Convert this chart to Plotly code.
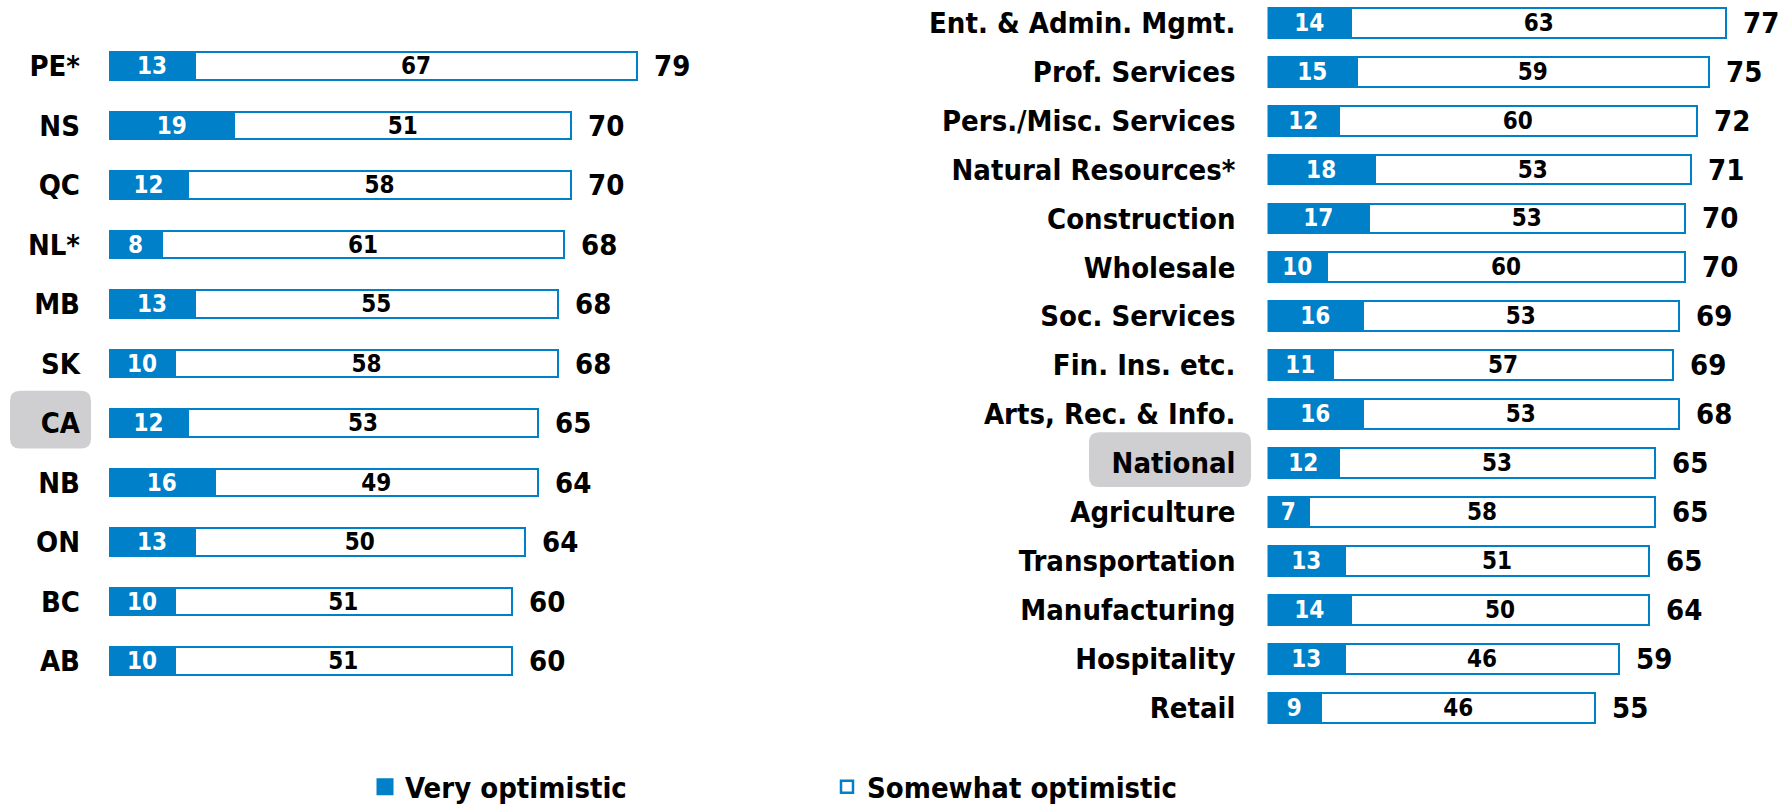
import plotly.graph_objects as go

# ---------------- data ----------------
prov_labels = ["PE*", "NS", "QC", "NL*", "MB", "SK", "CA", "NB", "ON", "BC", "AB"]
prov_very = [13, 19, 12, 8, 13, 10, 12, 16, 13, 10, 10]
prov_some = [67, 51, 58, 61, 55, 58, 53, 49, 50, 51, 51]
prov_total = [79, 70, 70, 68, 68, 68, 65, 64, 64, 60, 60]

sect_labels = ["Ent. & Admin. Mgmt.", "Prof. Services", "Pers./Misc. Services",
               "Natural Resources*", "Construction", "Wholesale", "Soc. Services",
               "Fin. Ins. etc.", "Arts, Rec. & Info.", "National", "Agriculture",
               "Transportation", "Manufacturing", "Hospitality", "Retail"]
sect_very = [14, 15, 12, 18, 17, 10, 16, 11, 16, 12, 7, 13, 14, 13, 9]
sect_some = [63, 59, 60, 53, 53, 60, 53, 57, 53, 53, 58, 51, 50, 46, 46]
sect_total = [77, 75, 72, 71, 70, 70, 69, 69, 68, 65, 65, 65, 64, 59, 55]

series_names = ["Very optimistic", "Somewhat optimistic"]
highlight_prov = "CA"
highlight_sect = "National"

# ---------------- style ----------------
W, H = 1784, 806
BLUE = "#0080C8"
GRAY = "#CFCFD1"
FONT = "DejaVu Sans Condensed"
VAL_SIZE = 24
LAB_SIZE = 29

fig = go.Figure()

def add_panel(labels, very, some, total, xa, ya, width):
    fig.add_trace(go.Bar(
        y=labels, x=very, orientation="h", name=series_names[0],
        marker=dict(color=BLUE, line=dict(color=BLUE, width=2)),
        width=width, text=very, textposition="inside", insidetextanchor="middle",
        constraintext="none", textangle=0,
        textfont=dict(family=FONT, size=VAL_SIZE, color="white", weight="bold"),
        xaxis=xa, yaxis=ya, showlegend=False, hoverinfo="skip"))
    fig.add_trace(go.Bar(
        y=labels, x=some, orientation="h", name=series_names[1],
        marker=dict(color="white", line=dict(color=BLUE, width=2)),
        width=width, text=some, textposition="inside", insidetextanchor="middle",
        constraintext="none", textangle=0,
        textfont=dict(family=FONT, size=VAL_SIZE, color="black", weight="bold"),
        xaxis=xa, yaxis=ya, showlegend=False, hoverinfo="skip"))
    for lab, v, s, t in zip(labels, very, some, total):
        fig.add_annotation(x=v + s, y=lab, text=str(t), showarrow=False,
                           xanchor="left", xshift=15, xref=xa, yref=ya,
                           font=dict(family=FONT, size=LAB_SIZE, color="black",
                                     weight="bold"))

add_panel(prov_labels, prov_very, prov_some, prov_total, "x", "y", 0.47)
add_panel(sect_labels, sect_very, sect_some, sect_total, "x2", "y2", 0.61)

# legend entries (larger key squares)
fig.add_trace(go.Bar(y=[None], x=[None], orientation="h", name=series_names[0],
                     marker=dict(color=BLUE, line=dict(color=BLUE, width=5)),
                     xaxis="x", yaxis="y", hoverinfo="skip"))
fig.add_trace(go.Bar(y=[None], x=[None], orientation="h", name=series_names[1],
                     marker=dict(color="white", line=dict(color=BLUE, width=2.5)),
                     xaxis="x", yaxis="y", hoverinfo="skip"))

def rounded_box(x0, x1, y0, y1, yunit, r=10):
    rx = r / W
    ry = r / yunit
    return (f"M{x0+rx},{y0} L{x1-rx},{y0} Q{x1},{y0} {x1},{y0+ry} "
            f"L{x1},{y1-ry} Q{x1},{y1} {x1-rx},{y1} L{x0+rx},{y1} "
            f"Q{x0},{y1} {x0},{y1-ry} L{x0},{y0+ry} Q{x0},{y0} {x0+rx},{y0} Z")

ip = prov_labels.index(highlight_prov)
fig.add_shape(type="path", xref="paper", yref="y", layer="below",
              path=rounded_box(10 / W, 91 / W, ip - 0.54, ip + 0.43, 59.5),
              fillcolor=GRAY, line=dict(width=0))
isx = sect_labels.index(highlight_sect)
fig.add_shape(type="path", xref="paper", yref="y2", layer="below",
              path=rounded_box(1089 / W, 1251 / W, isx - 0.63, isx + 0.49, 48.9),
              fillcolor=GRAY, line=dict(width=0))

label_font = dict(family=FONT, size=LAB_SIZE, color="black", weight="bold")

fig.update_layout(
    width=W, height=H, margin=dict(l=0, r=0, t=0, b=0, autoexpand=False),
    paper_bgcolor="white", plot_bgcolor="rgba(0,0,0,0)",
    barmode="stack",
    uniformtext=dict(minsize=VAL_SIZE, mode="show"),
    xaxis=dict(domain=[109 / W, (109 + 90 * 6.6) / W], range=[0, 90],
               visible=False, fixedrange=True),
    yaxis=dict(domain=[115.25 / H, 769.75 / H], range=[10.5, -0.5],
               type="category", categoryorder="array", categoryarray=prov_labels,
               showgrid=False, zeroline=False, showline=False, ticks="",
               ticklabelstandoff=28, tickfont=label_font, fixedrange=True),
    xaxis2=dict(domain=[1267.5 / W, (1267.5 + 86 * 5.96) / W], range=[0, 86],
                visible=False, fixedrange=True, anchor="y2"),
    yaxis2=dict(domain=[(H - 732.1) / H, 1.0], range=[14.5, -0.466],
                anchor="x2", type="category", categoryorder="array",
                categoryarray=sect_labels,
                showgrid=False, zeroline=False, showline=False, ticks="",
                ticklabelstandoff=31, tickfont=label_font, fixedrange=True),
    legend=dict(orientation="h", x=365 / W, xanchor="left", y=(H - 787) / H,
                yanchor="middle", font=dict(family=FONT, size=LAB_SIZE,
                                            color="black", weight="bold"),
                entrywidth=417, bgcolor="rgba(0,0,0,0)", traceorder="normal"),
    showlegend=True,
)

fig.write_html("out.html", config={"displayModeBar": False},
               post_script="document.body.style.margin='0';")
